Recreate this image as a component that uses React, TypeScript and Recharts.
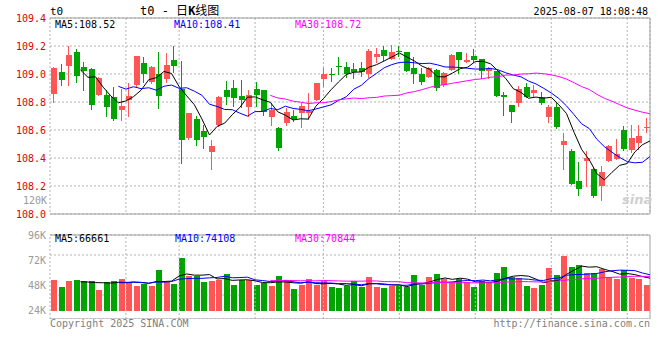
import React from 'react';
import { ComposedChart, Bar, Line, XAxis, YAxis, CartesianGrid, ReferenceLine } from 'recharts';

const DATES = [
  '04-14','04-15','04-16','04-17','04-18','04-21','04-22','04-23','04-24','04-25',
  '04-28','04-29','04-30','05-06','05-07','05-08','05-09','05-12','05-13','05-14',
  '05-15','05-16','05-19','05-20','05-21','05-22','05-23','05-26','05-27','05-28',
  '05-29','05-30','06-03','06-04','06-05','06-06','06-09','06-10','06-11','06-12',
  '06-13','06-16','06-17','06-18','06-19','06-20','06-23','06-24','06-25','06-26',
  '06-27','06-30','07-01','07-02','07-03','07-04','07-07','07-08','07-09','07-10',
  '07-11','07-14','07-15','07-16','07-17','07-18','07-21','07-22','07-23','07-24',
  '07-25','07-28','07-29','07-30','07-31','08-01','08-04','08-05','08-06','08-07'];

const TICK_DATES = ['04-14','04-28','05-12','05-26','06-09','06-23','07-07','07-21','08-04'];

const OPEN = [
  108.855,109.017,109.057,109.160,109.050,109.036,108.850,108.850,108.838,108.743,
  108.814,108.922,109.076,108.945,108.998,108.964,109.100,108.891,108.541,108.679,
  108.595,108.445,108.636,108.886,108.898,108.843,108.767,108.893,108.886,108.695,
  108.617,108.653,108.700,108.719,108.724,108.814,108.964,108.998,109.057,109.052,
  109.036,109.041,108.998,109.124,109.171,109.105,109.164,109.155,109.041,108.998,
  108.981,109.029,108.922,109.029,109.155,109.086,109.129,109.107,109.021,109.021,
  108.850,108.779,108.791,108.910,108.867,108.833,108.695,108.767,108.493,108.450,
  108.236,108.381,108.321,108.202,108.381,108.393,108.600,108.457,108.510,108.612];

const HIGH = [
  109.050,109.072,109.200,109.176,109.086,109.040,108.980,108.886,108.910,108.893,
  108.933,109.130,109.124,109.060,109.155,109.148,109.200,109.093,108.724,108.700,
  108.636,108.529,108.840,108.950,108.957,108.957,108.886,108.941,108.886,108.791,
  108.624,108.755,108.743,108.791,108.867,108.935,109.041,109.041,109.124,109.088,
  109.081,109.088,109.176,109.183,109.200,109.207,109.200,109.155,109.119,109.041,
  109.053,109.033,109.012,109.143,109.155,109.148,109.176,109.107,109.052,109.021,
  108.869,108.779,108.914,108.933,108.921,108.874,108.779,108.791,108.576,108.462,
  108.372,108.450,108.338,108.343,108.490,108.533,108.629,108.636,108.636,108.683];

const LOW = [
  108.795,108.914,108.914,108.938,108.879,108.743,108.845,108.691,108.667,108.664,
  108.695,108.910,108.933,108.930,108.750,108.934,109.005,108.357,108.530,108.486,
  108.464,108.314,108.624,108.779,108.767,108.755,108.695,108.767,108.700,108.629,
  108.450,108.629,108.660,108.617,108.672,108.807,108.910,108.945,108.993,108.969,
  108.962,108.981,108.969,109.081,109.095,109.100,109.119,109.012,108.929,108.922,
  108.969,108.881,108.910,109.024,108.998,109.076,109.081,108.962,108.962,108.833,
  108.703,108.653,108.767,108.826,108.838,108.779,108.653,108.605,108.314,108.207,
  108.131,108.195,108.112,108.093,108.374,108.386,108.452,108.433,108.457,108.576];

const CLOSE = [
  109.045,108.957,109.136,108.988,109.022,108.779,108.974,108.767,108.679,108.774,
  108.843,109.129,108.998,109.053,108.845,109.064,109.060,108.529,108.724,108.529,
  108.553,108.486,108.838,108.838,108.831,108.814,108.850,108.850,108.731,108.743,
  108.474,108.731,108.679,108.772,108.734,108.933,109.002,108.995,109.052,108.998,
  109.017,109.012,109.164,109.143,109.129,109.157,109.157,109.021,108.998,108.945,
  109.045,108.898,109.010,109.136,109.100,109.100,109.100,109.021,109.045,108.845,
  108.833,108.731,108.893,108.833,108.886,108.791,108.767,108.624,108.522,108.214,
  108.179,108.398,108.129,108.298,108.486,108.426,108.464,108.540,108.557,108.624];

const VOLUME = [
  53200,46500,52200,53200,52000,52200,43700,51300,52200,54100,
  51300,47500,49400,47500,62700,51300,49400,74100,57000,57000,
  51300,52200,53200,58900,48400,53200,53200,48400,50300,47500,
  57000,53200,44600,48400,54100,48400,52200,46500,45600,47500,
  52200,46500,56000,46500,45600,47500,47500,46500,58000,48400,
  56000,58900,54100,51300,54100,51300,46500,52200,50300,59900,
  65600,56000,55100,47500,45600,48400,64600,58000,76000,65600,
  67500,59900,59900,63700,56000,54100,62700,55100,54100,48400];

const PRICE_TICKS = [108.0, 108.2, 108.4, 108.6, 108.8, 109.0, 109.2, 109.4];
const VOL_TICKS = [24000, 48000, 72000, 96000];
const VOL_BASE = 24000;
const VOL_AXIS_MIN = 16000;
const VOL_MA_LABELS = ['MA5:66661', 'MA10:74108', 'MA30:70844'];
const MA_PERIODS = [5, 10, 30];

const RED = '#ff5555';
const GREEN = '#00a400';
const MA_COLORS = ['#000000', '#0000ff', '#ff00ff'];
const GRID = '#b4b4b4';
const BORDER = '#a0a0a0';
const FONT = '"DejaVu Sans Mono", "Liberation Mono", monospace';

function movingAvg(arr: number[], n: number): (number | null)[] {
  return arr.map((_, i) => {
    if (i < n - 1) return null;
    let s = 0;
    for (let k = i - n + 1; k <= i; k++) s += arr[k];
    return s / n;
  });
}

const pMA = MA_PERIODS.map((n) => movingAvg(CLOSE, n));
const vMA = MA_PERIODS.map((n) => movingAvg(VOLUME, n));

const rows = DATES.map((date, i) => ({
  i,
  date,
  open: OPEN[i],
  high: HIGH[i],
  low: LOW[i],
  close: CLOSE[i],
  vol: VOLUME[i],
  up: CLOSE[i] >= OPEN[i],
  ma5: pMA[0][i],
  ma10: pMA[1][i],
  ma30: pMA[2][i],
  vma5: vMA[0][i],
  vma10: vMA[1][i],
  vma30: vMA[2][i],
}));

const TICK_IDX = TICK_DATES.map((d) => DATES.indexOf(d));
const LAST = DATES.length - 1;
const PRICE_LEGEND = MA_PERIODS.map((n, k) => `MA${n}:${(pMA[k][LAST] as number).toFixed(2)}`);

function CandleShape(props: any) {
  const { x, y, width, height, payload } = props;
  if (x == null || y == null || !payload) return null;
  const color = payload.up ? RED : GREEN;
  const top = Math.min(y, y + height);
  const h = Math.abs(height);
  const span = payload.high - payload.low;
  const hi = Math.max(payload.open, payload.close);
  const lo = Math.min(payload.open, payload.close);
  const b1 = span > 0 ? top + ((payload.high - hi) / span) * h : top;
  const b2 = span > 0 ? top + ((payload.high - lo) / span) * h : top + h;
  const bx = Math.round(x);
  const bw = Math.round(width);
  const wx = bx + Math.floor((bw - 1) / 2);
  const ty = Math.round(top);
  const wy2 = Math.round(top + h);
  const by1 = Math.round(b1);
  const by2 = Math.round(b2);
  return (
    <g shapeRendering="crispEdges">
      <rect x={wx} y={ty} width={1} height={Math.max(1, wy2 - ty)} fill={color} />
      <rect x={bx} y={by1} width={bw} height={Math.max(1, by2 - by1)} fill={color} />
    </g>
  );
}

function VolShape(props: any) {
  const { x, y, width, height, payload } = props;
  if (x == null || y == null || !payload) return null;
  const color = payload.up ? RED : GREEN;
  const top = Math.round(Math.min(y, y + height));
  const bot = Math.round(Math.max(y, y + height));
  return <rect x={Math.round(x)} y={top} width={Math.round(width)} height={Math.max(1, bot - top)} fill={color} shapeRendering="crispEdges" />;
}

const axisTick = (fill: string) => ({ fill, fontSize: 10, fontFamily: FONT });

export default function App() {
  return (
    <div style={{ position: 'absolute', left: 0, top: 0, width: 660, height: 360, background: '#fff', overflow: 'hidden' }}>
      <div style={{ position: 'absolute', left: 0, top: 0 }}>
        <ComposedChart width={660} height={234} data={rows} margin={{ top: 18, right: 10, bottom: 0, left: 0 }}>
          <XAxis
            xAxisId="grid"
            dataKey="i"
            type="number"
            domain={[0, LAST]}
            ticks={TICK_IDX}
            tickFormatter={(v: number) => DATES[v]}
            tick={axisTick('#0a78d2')}
            tickSize={0}
            tickMargin={3}
            axisLine={false}
            height={20}
            interval={0}
            allowDataOverflow
          />
          <XAxis xAxisId="band" dataKey="date" type="category" hide />
          <YAxis
            yAxisId="p"
            orientation="left"
            type="number"
            domain={[PRICE_TICKS[0], PRICE_TICKS[PRICE_TICKS.length - 1]]}
            ticks={PRICE_TICKS}
            tickFormatter={(v: number) => v.toFixed(1)}
            tick={axisTick('#e00000')}
            tickSize={0}
            tickMargin={4}
            axisLine={false}
            width={50}
            interval={0}
            allowDataOverflow
          />
          <CartesianGrid xAxisId="grid" yAxisId="p" stroke={GRID} strokeDasharray="2 2" />
          <ReferenceLine xAxisId="grid" yAxisId="p" y={PRICE_TICKS[PRICE_TICKS.length - 1]} stroke={BORDER} />
          <ReferenceLine xAxisId="grid" yAxisId="p" y={PRICE_TICKS[0]} stroke={BORDER} />
          <ReferenceLine xAxisId="grid" yAxisId="p" x={LAST} stroke={BORDER} />
          <Bar
            xAxisId="band"
            yAxisId="p"
            dataKey={(d: any) => [d.low, d.high]}
            barSize={6}
            shape={<CandleShape />}
            isAnimationActive={false}
          />
          {['ma5', 'ma10', 'ma30'].map((k, idx) => (
            <Line
              key={k}
              xAxisId="grid"
              yAxisId="p"
              dataKey={k}
              type="linear"
              stroke={MA_COLORS[idx]}
              strokeWidth={1}
              dot={false}
              activeDot={false}
              isAnimationActive={false}
            />
          ))}
        </ComposedChart>
      </div>

      <div style={{ position: 'absolute', left: 0, top: 228 }}>
        <ComposedChart width={660} height={91} data={rows} margin={{ top: 7, right: 10, bottom: 0, left: 0 }}>
          <XAxis xAxisId="grid" dataKey="i" type="number" domain={[0, LAST]} hide allowDataOverflow />
          <XAxis xAxisId="band" dataKey="date" type="category" hide />
          <YAxis
            yAxisId="v"
            orientation="left"
            type="number"
            domain={[VOL_AXIS_MIN, VOL_TICKS[VOL_TICKS.length - 1]]}
            ticks={VOL_TICKS}
            tickFormatter={(v: number) => `${v / 1000}K`}
            tick={axisTick('#9a9a9a')}
            tickSize={0}
            tickMargin={4}
            axisLine={false}
            width={50}
            interval={0}
            allowDataOverflow
          />
          <YAxis yAxisId="q" orientation="right" type="number" domain={[-0.2, 4]} ticks={[1, 2, 3]} hide allowDataOverflow />
          <CartesianGrid xAxisId="grid" yAxisId="q" vertical={false} stroke={GRID} strokeDasharray="2 2" />
          {TICK_IDX.map((t) => (
            <ReferenceLine key={`vg${t}`} xAxisId="grid" yAxisId="q" x={t} stroke={GRID} strokeDasharray="2 2" />
          ))}
          <ReferenceLine xAxisId="grid" yAxisId="q" y={4} stroke={BORDER} />
          <ReferenceLine xAxisId="grid" yAxisId="q" y={-0.2} stroke={BORDER} />
          <ReferenceLine xAxisId="grid" yAxisId="q" x={LAST} stroke={BORDER} />
          <Bar
            xAxisId="band"
            yAxisId="v"
            dataKey={(d: any) => [VOL_BASE, d.vol]}
            barSize={6}
            shape={<VolShape />}
            isAnimationActive={false}
          />
          {['vma5', 'vma10', 'vma30'].map((k, idx) => (
            <Line
              key={k}
              xAxisId="grid"
              yAxisId="v"
              dataKey={k}
              type="linear"
              stroke={MA_COLORS[idx]}
              strokeWidth={1}
              dot={false}
              activeDot={false}
              isAnimationActive={false}
            />
          ))}
        </ComposedChart>
      </div>

      <svg width={660} height={360} style={{ position: 'absolute', left: 0, top: 0, pointerEvents: 'none' }} fontFamily={FONT}>
        <text x={50} y={15} fontSize={11} fill="#000">t0</text>
        <text x={140} y={15} fontSize={12} fill="#000" fontFamily={'"DejaVu Sans Mono", "Noto Sans CJK SC", monospace'}>
          t0 - 日<tspan fontWeight="bold">K</tspan>线图
        </text>
        <text x={648} y={15} fontSize={10} fill="#000" textAnchor="end">2025-08-07 18:08:48</text>
        <text x={55} y={28} fontSize={10} fill={MA_COLORS[0]}>{PRICE_LEGEND[0]}</text>
        <text x={174} y={28} fontSize={10} fill={MA_COLORS[1]}>{PRICE_LEGEND[1]}</text>
        <text x={295} y={28} fontSize={10} fill={MA_COLORS[2]}>{PRICE_LEGEND[2]}</text>
        <text x={47} y={204} fontSize={10} fill="#9a9a9a" textAnchor="end">120K</text>
        <text x={55} y={242} fontSize={10} fill={MA_COLORS[0]}>{VOL_MA_LABELS[0]}</text>
        <text x={175} y={242} fontSize={10} fill={MA_COLORS[1]}>{VOL_MA_LABELS[1]}</text>
        <text x={295} y={242} fontSize={10} fill={MA_COLORS[2]}>{VOL_MA_LABELS[2]}</text>
        <text x={50} y={327} fontSize={10} fill="#808080">Copyright 2025 SINA.COM</text>
        <text x={650} y={327} fontSize={10} fill="#808080" textAnchor="end">http://finance.sina.com.cn</text>
        <text x={622} y={204} fontSize={13} fontWeight="bold" fontStyle="italic" fill="#cfcfcf" fontFamily="'DejaVu Sans', sans-serif">sina</text>
      </svg>
    </div>
  );
}
